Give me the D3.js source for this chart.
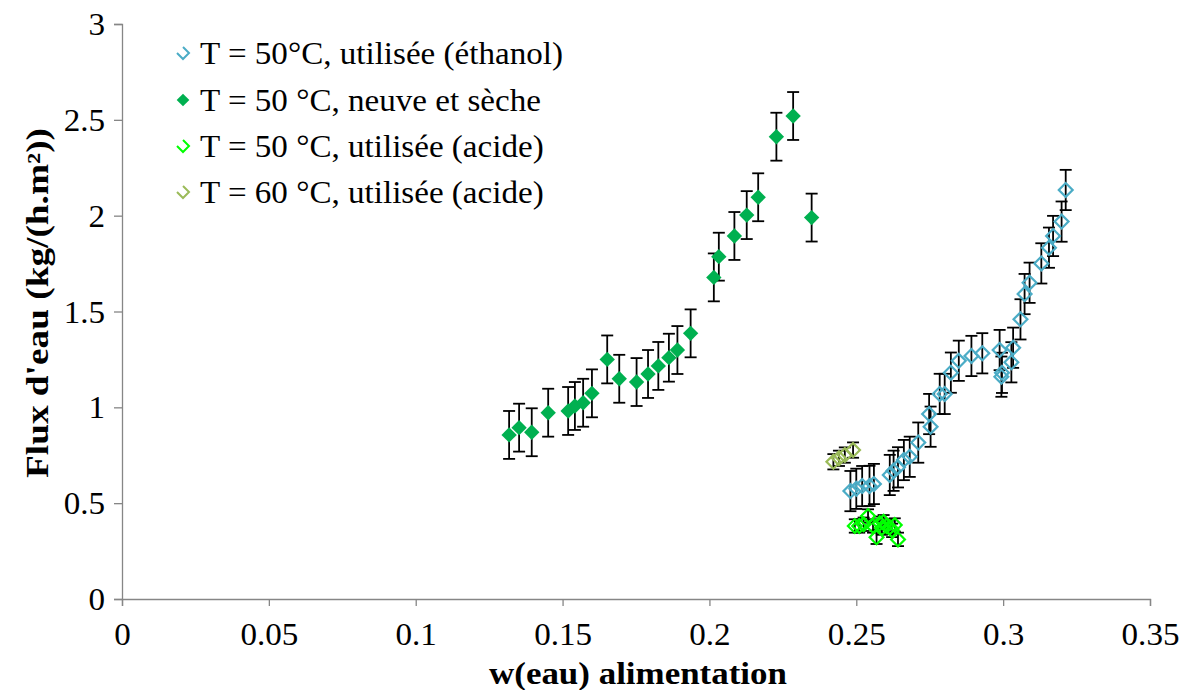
<!DOCTYPE html>
<html><head><meta charset="utf-8">
<script src="https://cdn.jsdelivr.net/npm/d3@7/dist/d3.min.js"></script>
<style>
html,body{margin:0;padding:0;background:#fff;}
svg{display:block;}
text{font-family:"Liberation Serif","Times New Roman",serif;fill:#000;}
</style></head>
<body>
<svg id="chart" width="1189" height="690"></svg>
<script>
// ---- data ----
const seriesNames = [
  "T = 50°C, utilisée (éthanol)",
  "T = 50 °C, neuve et sèche",
  "T = 50 °C, utilisée (acide)",
  "T = 60 °C, utilisée (acide)"
];
const ethanolX = [0.2480,0.2500,0.2520,0.2545,0.2560,0.2614,0.2627,0.2642,0.2662,0.2682,0.2711,0.2748,0.2753,0.2784,0.2801,0.2822,0.2849,0.2892,0.2929,0.2988,0.2994,0.2996,0.3028,0.3034,0.3059,0.3073,0.3090,0.3130,0.3156,0.3170,0.3199,0.3213];
const ethanolY = [0.563,0.575,0.589,0.590,0.600,0.647,0.669,0.687,0.725,0.742,0.816,0.965,0.899,1.070,1.070,1.181,1.243,1.268,1.282,1.299,1.160,1.180,1.235,1.311,1.459,1.591,1.650,1.751,1.833,1.894,1.969,2.134];
const ethanolErr = 0.105;
const neuveX = [0.1318,0.1352,0.1395,0.1451,0.1519,0.1542,0.1570,0.1600,0.1652,0.1693,0.1752,0.1791,0.1826,0.1862,0.1891,0.1936,0.2015,0.2032,0.2085,0.2127,0.2166,0.2228,0.2285,0.2348];
const neuveY = [0.856,0.894,0.870,0.972,0.981,1.007,1.024,1.073,1.250,1.149,1.132,1.174,1.216,1.259,1.299,1.386,1.678,1.786,1.894,2.003,2.096,2.412,2.520,1.990];
const neuveErr = 0.125;
const acide50X = [0.2495,0.2510,0.2525,0.2540,0.2557,0.2569,0.2580,0.2587,0.2593,0.2603,0.2614,0.2622,0.2631,0.2642];
const acide50Y = [0.381,0.381,0.390,0.433,0.381,0.322,0.395,0.370,0.403,0.381,0.374,0.358,0.386,0.311];
const acide50Err = 0.035;
const acide60X = [0.2422,0.2441,0.2461,0.2489];
const acide60Y = [0.716,0.734,0.751,0.777];
const acide60Err = 0.04;
const xTickValues = [0,0.05,0.1,0.15,0.2,0.25,0.3,0.35];
const xTickLabels = ["0","0.05","0.1","0.15","0.2","0.25","0.3","0.35"];
const yTickValues = [0,0.5,1,1.5,2,2.5,3];
const yTickLabels = ["0","0.5","1","1.5","2","2.5","3"];
const xTitle = "w(eau) alimentation";
const yTitle = "Flux d'eau (kg/(h.m²))";

// ---- layout ----
const svg = d3.select("#chart");
const L = 122, R = 1150, T = 24, B = 599;
const x = d3.scaleLinear().domain([0,0.35]).range([L,R]);
const y = d3.scaleLinear().domain([0,3]).range([B,T]);
const axisColor = "#868686";
const FS = 31;

const series = [
  {xs: ethanolX, ys: ethanolY, err: ethanolErr, color:"#4bacc6", filled:false},
  {xs: neuveX, ys: neuveY, err: neuveErr, color:"#00b050", filled:true},
  {xs: acide50X, ys: acide50Y, err: acide50Err, color:"#00ff00", filled:false},
  {xs: acide60X, ys: acide60Y, err: acide60Err, color:"#9bbb59", filled:false}
];

// axes
const xa = svg.append("g").attr("transform",`translate(0,${B})`)
  .call(d3.axisBottom(x).tickValues(xTickValues).tickFormat((d,i)=>xTickLabels[i]).tickSizeOuter(0).tickSize(7).tickPadding(17));
const ya = svg.append("g").attr("transform",`translate(${L},0)`)
  .call(d3.axisLeft(y).tickValues(yTickValues).tickFormat((d,i)=>yTickLabels[i]).tickSizeOuter(0).tickSize(8).tickPadding(9));
[xa,ya].forEach(a=>{
  a.attr("font-family",null);
  a.select(".domain").attr("stroke",axisColor).attr("stroke-width",1.3);
  a.selectAll(".tick line").attr("stroke",axisColor).attr("stroke-width",1.3);
  a.selectAll(".tick text").attr("font-size",FS).attr("fill","#000").classed("sq",true);
});
xa.selectAll(".tick text").attr("dy","0.71em");
ya.selectAll(".tick text").attr("dy","0.34em");

// titles
svg.append("text").attr("class","sqx").attr("x",638).attr("y",684)
  .attr("text-anchor","middle").attr("font-size",FS).attr("font-weight","bold").text(xTitle);
svg.append("text").attr("class","sqy").attr("transform","translate(48,303) rotate(-90)")
  .attr("text-anchor","middle").attr("font-size",FS).attr("font-weight","bold").text(yTitle);

// marks
const sqFilled = d3.symbol(d3.symbolSquare, 118)();
const sqOpen = d3.symbol(d3.symbolSquare, 96)();
const cap = 6;
series.forEach(s=>{
  const g = svg.append("g");
  const pts = s.xs.map((v,i)=>({x:v, y:s.ys[i]}));
  const eb = g.append("g").attr("stroke","#000").attr("stroke-width",1.8);
  pts.forEach(p=>{
    const cx = x(p.x), y1 = y(p.y + s.err), y2 = y(p.y - s.err);
    eb.append("line").attr("x1",cx).attr("x2",cx).attr("y1",y1).attr("y2",y2);
    eb.append("line").attr("x1",cx-cap).attr("x2",cx+cap).attr("y1",y1).attr("y2",y1);
    eb.append("line").attr("x1",cx-cap).attr("x2",cx+cap).attr("y1",y2).attr("y2",y2);
  });
  g.selectAll("path.m").data(pts).join("path").attr("class","m")
    .attr("d", s.filled ? sqFilled : sqOpen)
    .attr("transform",d=>`translate(${x(d.x)},${y(d.y)}) rotate(45)`)
    .attr("fill", s.filled ? s.color : "none")
    .attr("stroke", s.filled ? "none" : s.color)
    .attr("stroke-width", 2.2);
});

// legend
const legY = [64,111,157,203];
const lg = svg.append("g");
series.forEach((s,i)=>{
  const cy = legY[i]-11, cx = 183, h = 6;
  if (s.filled) {
    lg.append("path").attr("d",d3.symbol(d3.symbolSquare, 80)()).attr("transform",`translate(${cx},${cy}) rotate(45)`).attr("fill",s.color);
  } else {
    lg.append("path").attr("d",`M${cx-h},${cy} L${cx},${cy+h} L${cx+h},${cy} L${cx},${cy-h}`)
      .attr("fill","none").attr("stroke",s.color).attr("stroke-width",2);
  }
  lg.append("text").attr("class", i===0 ? "sq leg0" : "sq").attr("x",200).attr("y",legY[i]).attr("font-size",FS).text(seriesNames[i]);
});

// horizontal compression to mimic the reference's narrow glyphs
const leg0 = svg.select(".leg0").node();
const k = 363 / leg0.getComputedTextLength();
svg.selectAll(".sq").each(function(){
  const w = this.getComputedTextLength();
  d3.select(this).attr("textLength", w*k).attr("lengthAdjust","spacingAndGlyphs");
});
const fit = (sel, target)=>{ const n = svg.select(sel).node(); n.setAttribute("textLength", target); n.setAttribute("lengthAdjust","spacingAndGlyphs"); };
fit(".sqx", 298);
fit(".sqy", 350);
</script>
</body></html>
